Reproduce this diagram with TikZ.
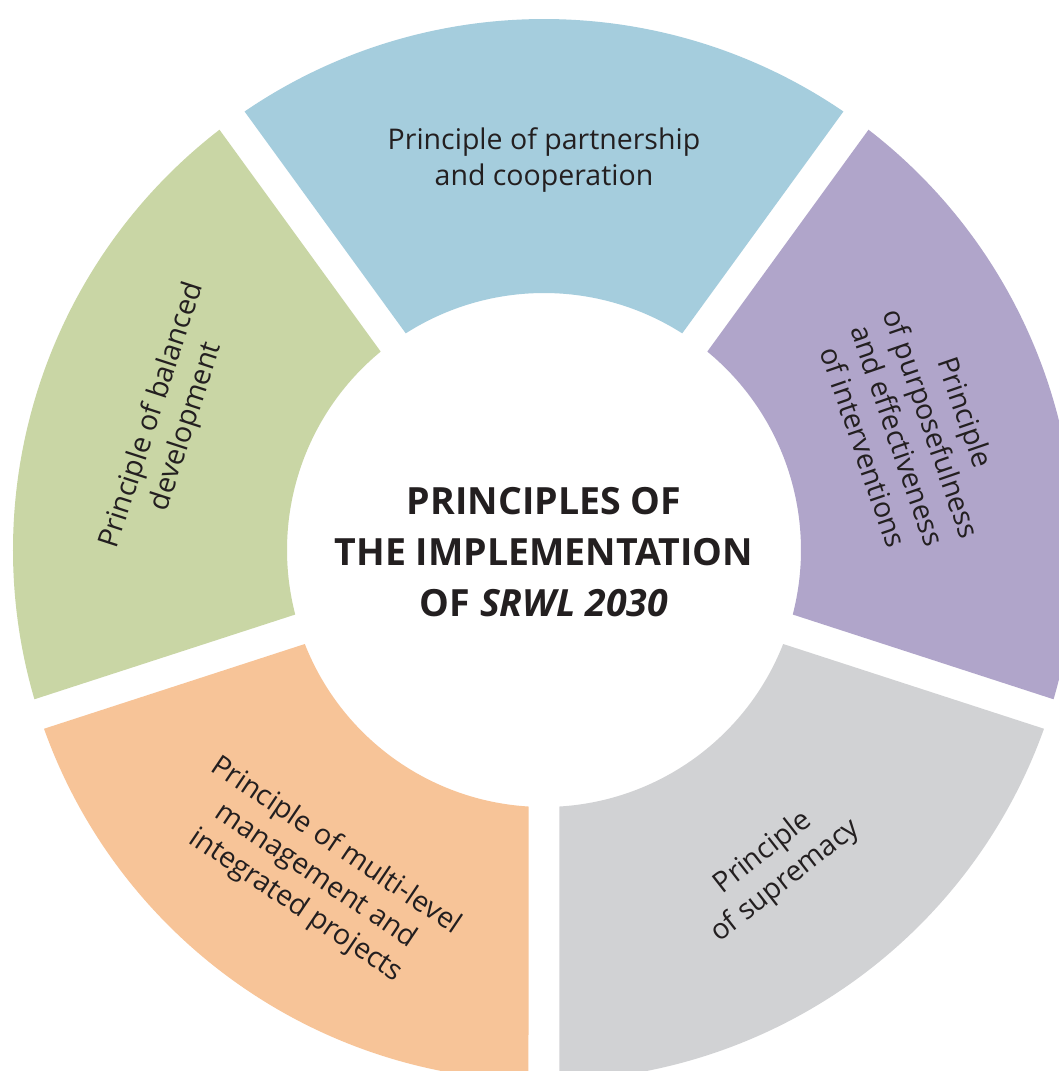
\documentclass[tikz,border=0pt]{standalone}
\usepackage{fontspec}
\setmainfont{Open Sans}
\definecolor{cblue}{HTML}{A5CDDD}
\definecolor{cgreen}{HTML}{C9D6A5}
\definecolor{corange}{HTML}{F7C498}
\definecolor{cgrey}{HTML}{D1D2D4}
\definecolor{cpurple}{HTML}{B0A5CA}
\definecolor{ctext}{HTML}{231F20}
\newcommand\ringseg[3]{%
  \fill[#3] ({#1+1.673}:531) arc[start angle={#1+1.673}, end angle={#2-1.673}, radius=531]
    -- ({#2-3.458}:257) arc[start angle={#2-3.458}, end angle={#1+3.458}, radius=257] -- cycle;}
\tikzset{
  lbl/.style={font=\fontsize{28.5}{36}\selectfont, align=center, text=ctext, inner sep=0pt},
  ttl/.style={font=\fontsize{37.5}{51}\selectfont\bfseries, align=center, text=ctext, inner sep=0pt}
}
\begin{document}
\begin{tikzpicture}[x=1pt,y=1pt]
\useasboundingbox[fill=white] (-544,-521) rectangle (515,550);
\ringseg{54}{126}{cblue}
\ringseg{126}{198}{cgreen}
\ringseg{198}{270}{corange}
\ringseg{270}{342}{cgrey}
\ringseg{342}{414}{cpurple}
\node[lbl] (partnership) at (0,390) {Principle of partnership\\and cooperation};
\node[lbl, rotate=72] (balanced) at (161:396) {Principle of balanced\\development};
\node[lbl, rotate=-71] (purpose) at (18:390) {Principle\\of purposefulness\\and effectiveness\\of interventions};
\node[lbl, rotate=38] (supremacy) at (306:392) {Principle\\of supremacy};
\node[lbl, rotate=-34] (multilevel) at (235:398) {Principle of multi-level\\management and\\integrated projects};
\node[ttl] (title) at (0,-2) {PRINCIPLES OF\\THE IMPLEMENTATION\\OF \textit{SRWL 2030}};
\end{tikzpicture}
\end{document}
